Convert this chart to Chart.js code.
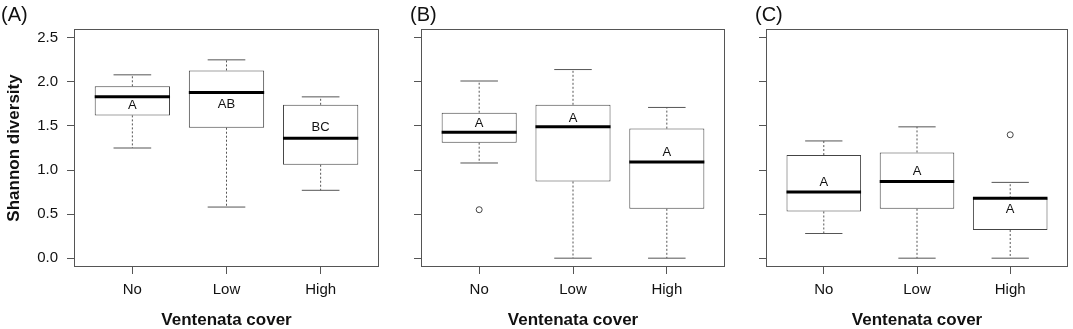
<!DOCTYPE html>
<html>
<head>
<meta charset="utf-8">
<script src="https://cdn.jsdelivr.net/npm/chart.js@4.4.1/dist/chart.umd.min.js"></script>
<style>
  html, body { margin: 0; padding: 0; background: #ffffff; }
  #wrap { position: relative; width: 1073px; height: 329px; overflow: hidden; background: #ffffff; }
  canvas { position: absolute; top: 0; }
</style>
</head>
<body>
<div id="wrap">
  <canvas id="cA" width="385" height="329" style="left:0px;width:385px;height:329px"></canvas>
  <canvas id="cB" width="345" height="329" style="left:385px;width:345px;height:329px"></canvas>
  <canvas id="cC" width="343" height="329" style="left:730px;width:343px;height:329px"></canvas>
</div>
<script>
// ---------- data ----------
const categories = ['No', 'Low', 'High'];
const yTicks = [0.0, 0.5, 1.0, 1.5, 2.0, 2.5];
const panelLabels = ['(A)', '(B)', '(C)'];
const yAxisTitle = 'Shannon diversity';
const xAxisTitle = 'Ventenata cover';

// Panel A
const aLower  = [1.25, 0.58, 0.77];
const aQ1     = [1.62, 1.48, 1.06];
const aMedian = [1.83, 1.88, 1.36];
const aQ3     = [1.95, 2.13, 1.74];
const aUpper  = [2.08, 2.25, 1.83];
const aOutliers = [];
const aLetters = ['A', 'AB', 'BC'];
const aLetterY = [1.73, 1.75, 1.48];

// Panel B
const bLower  = [1.08, 0.00, 0.00];
const bQ1     = [1.31, 0.87, 0.56];
const bMedian = [1.43, 1.49, 1.09];
const bQ3     = [1.65, 1.74, 1.47];
const bUpper  = [2.01, 2.14, 1.71];
const bOutliers = [[1, 0.55]];
const bLetters = ['A', 'A', 'A'];
const bLetterY = [1.53, 1.59, 1.20];

// Panel C
const cLower  = [0.28, 0.00, 0.00];
const cQ1     = [0.53, 0.56, 0.32];
const cMedian = [0.75, 0.87, 0.68];
const cQ3     = [1.17, 1.20, 0.68];
const cUpper  = [1.33, 1.49, 0.86];
const cOutliers = [[3, 1.40]];
const cLetters = ['A', 'A', 'A'];
const cLetterY = [0.86, 0.98, 0.555];

// ---------- styling ----------
const FONT = '"Liberation Sans", Arial, Helvetica, sans-serif';
const LINE = '#444444';
const CAP = '#555555';
const FRAME = '#555555';
const TEXT = '#111111';
const BOX_W = 0.8;      // box width in x units
const CAP_W = 0.4;      // whisker cap width in x units

function halfPx(ctx, w) {
  const x = ctx.chart.scales.x;
  return Math.abs(x.getPixelForValue(1 + w / 2) - x.getPixelForValue(1));
}

const panelPlugin = {
  id: 'panelDeco',
  afterDatasetsDraw(chart, args, opts) {
    const { ctx, chartArea: a, scales: { x, y } } = chart;
    ctx.save();
    ctx.fillStyle = TEXT;
    ctx.font = '13px ' + FONT;
    ctx.textAlign = 'center';
    ctx.textBaseline = 'middle';
    opts.letters.forEach((t, i) => {
      ctx.fillText(t, x.getPixelForValue(i + 1), y.getPixelForValue(opts.letterY[i]));
    });
    ctx.strokeStyle = FRAME;
    ctx.lineWidth = 1;
    ctx.strokeRect(Math.round(a.left) + 0.5, Math.round(a.top) + 0.5,
                   Math.round(a.right - a.left) - 1, Math.round(a.bottom - a.top) - 1);
    ctx.font = '20px ' + FONT;
    ctx.textAlign = 'left';
    ctx.textBaseline = 'middle';
    ctx.fillStyle = TEXT;
    ctx.fillText(opts.title, opts.titleX, 15);
    ctx.restore();
  }
};

function buildPanel(canvasId, p) {
  const idx = categories.map((c, i) => i + 1);
  const whiskerData = [];
  idx.forEach((xv, i) => {
    whiskerData.push({ x: xv, y: p.q3[i] }, { x: xv, y: p.upper[i] }, { x: xv, y: null });
    whiskerData.push({ x: xv, y: p.q1[i] }, { x: xv, y: p.lower[i] }, { x: xv, y: null });
  });
  const capData = [];
  idx.forEach((xv, i) => {
    capData.push({ x: xv, y: p.upper[i] }, { x: xv, y: p.lower[i] });
  });

  const datasets = [
    { type: 'scatter', label: 'median',
      data: idx.map((xv, i) => ({ x: xv, y: p.median[i] })),
      pointStyle: 'line', pointRadius: c => halfPx(c, BOX_W), pointHoverRadius: c => halfPx(c, BOX_W),
      pointBorderWidth: 3, pointBorderColor: '#000000', pointBackgroundColor: '#000000' },
    { type: 'scatter', label: 'caps', data: capData,
      pointStyle: 'line', pointRadius: c => halfPx(c, CAP_W), pointHoverRadius: c => halfPx(c, CAP_W),
      pointBorderWidth: 1, pointBorderColor: CAP },
    { type: 'scatter', label: 'outliers',
      data: p.outliers.map(o => ({ x: o[0], y: o[1] })),
      pointStyle: 'circle', pointRadius: 3, pointBorderWidth: 1,
      pointBorderColor: LINE, pointBackgroundColor: '#ffffff' },
    { type: 'line', label: 'whiskers', data: whiskerData,
      borderColor: CAP, borderWidth: 1, borderDash: [2, 2], pointRadius: 0,
      spanGaps: false, fill: false, tension: 0 },
    { type: 'bar', label: 'boxes',
      data: idx.map((xv, i) => ({ x: xv, y: [p.q1[i], p.q3[i]] })),
      backgroundColor: '#ffffff', borderColor: LINE, borderWidth: 1, borderSkipped: false,
      barPercentage: BOX_W, categoryPercentage: 1.0 }
  ];

  return new Chart(document.getElementById(canvasId), {
    type: 'bar',
    data: { datasets },
    options: {
      responsive: false,
      animation: false,
      devicePixelRatio: 1,
      layout: { padding: { left: 0, right: p.padRight, top: 29, bottom: 0 } },
      plugins: {
        legend: { display: false },
        tooltip: { enabled: false },
        panelDeco: { letters: p.letters, letterY: p.letterY, title: p.title, titleX: p.titleX }
      },
      scales: {
        x: {
          type: 'linear', min: 0.38, max: 3.62, offset: false,
          afterBuildTicks: s => { s.ticks = idx.map(v => ({ value: v })); },
          afterFit: s => { s.height = 62; },
          ticks: { callback: (v, i) => categories[i], padding: 7, autoSkip: false, maxRotation: 0,
                   color: TEXT, font: { family: FONT, size: 15 } },
          grid: { offset: false, drawOnChartArea: false, drawTicks: true, tickLength: 7, color: FRAME, tickColor: FRAME },
          border: { display: false },
          title: { display: true, text: xAxisTitle, color: TEXT, padding: { top: 0, bottom: 0 },
                   font: { family: FONT, size: 17, weight: 'bold', lineHeight: 1 } }
        },
        y: {
          type: 'linear', min: -0.1, max: 2.6,
          afterBuildTicks: s => { s.ticks = yTicks.map(v => ({ value: v })); },
          afterFit: s => { s.width = p.yWidth; },
          ticks: { display: p.showYLabels, callback: v => Number(v).toFixed(1), padding: 9,
                   color: TEXT, font: { family: FONT, size: 15 } },
          grid: { drawOnChartArea: false, drawTicks: true, tickLength: 7, color: FRAME, tickColor: FRAME },
          border: { display: false },
          title: { display: p.showYTitle, text: yAxisTitle, color: TEXT, padding: { top: 4, bottom: 0 },
                   font: { family: FONT, size: 17, weight: 'bold' } }
        }
      }
    },
    plugins: [panelPlugin]
  });
}

buildPanel('cA', { lower: aLower, q1: aQ1, median: aMedian, q3: aQ3, upper: aUpper, outliers: aOutliers,
  letters: aLetters, letterY: aLetterY, title: panelLabels[0], titleX: 1,
  yWidth: 74, padRight: 6, showYLabels: true, showYTitle: true });
buildPanel('cB', { lower: bLower, q1: bQ1, median: bMedian, q3: bQ3, upper: bUpper, outliers: bOutliers,
  letters: bLetters, letterY: bLetterY, title: panelLabels[1], titleX: 25,
  yWidth: 36, padRight: 5, showYLabels: false, showYTitle: false });
buildPanel('cC', { lower: cLower, q1: cQ1, median: cMedian, q3: cQ3, upper: cUpper, outliers: cOutliers,
  letters: cLetters, letterY: cLetterY, title: panelLabels[2], titleX: 25,
  yWidth: 36, padRight: 2, showYLabels: false, showYTitle: false });
</script>
</body>
</html>
